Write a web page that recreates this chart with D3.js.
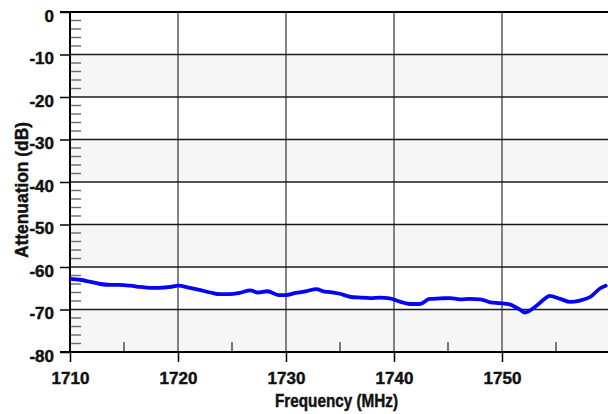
<!DOCTYPE html>
<html>
<head>
<meta charset="utf-8">
<script src="https://cdn.jsdelivr.net/npm/d3@7"></script>
<style>
  html, body { margin: 0; padding: 0; background: #fff; }
  svg { display: block; }
  text.lbl { font-family: "Liberation Sans", Arial, sans-serif; font-weight: 700; fill: #111; stroke: #111; stroke-width: 0.45px; }
</style>
</head>
<body>
<svg id="chart" width="608" height="414"></svg>
<script>
// Measured attenuation across the band
const freqMHz = [1710.0, 1710.9, 1711.9, 1712.8, 1713.7, 1714.6, 1715.6, 1716.5, 1717.4, 1718.3,
  1719.3, 1720.0, 1721.1, 1722.0, 1723.0, 1723.9, 1724.8, 1725.7, 1726.7, 1727.4,
  1728.3, 1729.3, 1730.0, 1730.9, 1731.9, 1732.8, 1733.6, 1734.1, 1735.0, 1735.9,
  1736.9, 1737.8, 1738.7, 1739.6, 1740.6, 1741.5, 1742.4, 1743.3, 1744.3, 1745.2,
  1746.1, 1747.0, 1748.0, 1748.9, 1749.8, 1750.7, 1751.7, 1752.1, 1753.1, 1754.0,
  1754.4, 1755.4, 1756.3, 1757.2, 1758.2, 1759.1, 1759.6];
const attenuationDb = [-62.8, -63.0, -63.5, -64.0, -64.2, -64.2, -64.4, -64.7, -64.9, -64.9,
  -64.7, -64.4, -64.9, -65.4, -66.0, -66.4, -66.4, -66.1, -65.5, -66.0,
  -65.7, -66.6, -66.6, -66.1, -65.7, -65.2, -65.8, -65.9, -66.3, -67.0,
  -67.2, -67.3, -67.2, -67.4, -68.2, -68.7, -68.7, -67.5, -67.4, -67.3,
  -67.6, -67.5, -67.6, -68.3, -68.5, -68.8, -70.1, -70.7, -69.3, -67.4,
  -66.8, -67.5, -68.2, -67.9, -67.0, -65.0, -64.4];

const xTicks = [1710, 1720, 1730, 1740, 1750];
const xMinorTicks = [1715, 1725, 1735, 1745, 1755];
const yTicks = [0, -10, -20, -30, -40, -50, -60, -70, -80];
const yMinorTicks = d3.range(-78, 0, 2).filter(v => v % 10 !== 0);
const shadedBands = [[-10, -20], [-30, -40], [-50, -60], [-70, -80]];

const svg = d3.select("#chart");
const plotLeft = 70, plotRight = 610, plotTop = 12, plotBottom = 352;

const x = d3.scaleLinear().domain([1710, 1760]).range([plotLeft, plotRight]);
const y = d3.scaleLinear().domain([-80, 0]).range([plotBottom, plotTop]);

svg.append("defs").append("clipPath").attr("id", "plotClip")
  .append("rect").attr("x", plotLeft).attr("y", plotTop - 2)
  .attr("width", plotRight - plotLeft).attr("height", plotBottom - plotTop + 4);

// alternating background bands
svg.append("g").selectAll("rect").data(shadedBands).join("rect")
  .attr("x", plotLeft).attr("width", plotRight - plotLeft)
  .attr("y", d => y(d[0])).attr("height", d => y(d[1]) - y(d[0]))
  .attr("fill", "#f6f6f6");

// vertical grid
svg.append("g").selectAll("line").data(xTicks.slice(1)).join("line")
  .attr("x1", d => x(d)).attr("x2", d => x(d)).attr("y1", plotTop).attr("y2", plotBottom)
  .attr("stroke", "#505050").attr("stroke-width", 1.4);

// horizontal grid
svg.append("g").selectAll("line").data(yTicks.slice(1, -1)).join("line")
  .attr("x1", plotLeft).attr("x2", plotRight).attr("y1", d => y(d)).attr("y2", d => y(d))
  .attr("stroke", "#1a1a1a").attr("stroke-width", 1.3);

// minor y ticks inside the plot
svg.append("g").selectAll("line").data(yMinorTicks).join("line")
  .attr("x1", plotLeft + 1).attr("x2", plotLeft + 11).attr("y1", d => y(d)).attr("y2", d => y(d))
  .attr("stroke", "#6a6a6a").attr("stroke-width", 1.4);

// minor x ticks rising from the bottom axis
svg.append("g").selectAll("line").data(xMinorTicks).join("line")
  .attr("x1", d => x(d)).attr("x2", d => x(d)).attr("y1", plotBottom - 10).attr("y2", plotBottom)
  .attr("stroke", "#333").attr("stroke-width", 1.3);

// top edge of the frame
svg.append("line").attr("x1", plotLeft - 10).attr("x2", plotRight).attr("y1", plotTop).attr("y2", plotTop)
  .attr("stroke", "#000").attr("stroke-width", 2);

const yAxis = svg.append("g").attr("transform", `translate(${plotLeft},0)`)
  .call(d3.axisLeft(y).tickValues(yTicks).tickSize(10).tickPadding(6));
yAxis.select(".domain").attr("stroke", "#000").attr("stroke-width", 2).attr("d", `M0,${plotTop}V${plotBottom}`);
yAxis.selectAll(".tick line").attr("stroke", "#000").attr("stroke-width", 1.5);
yAxis.selectAll(".tick text").attr("class", "lbl").attr("font-size", 17).attr("dy", "0.53em")
  .text(d => String(d));

const xAxis = svg.append("g").attr("transform", `translate(0,${plotBottom})`)
  .call(d3.axisBottom(x).tickValues(xTicks).tickSize(10).tickPadding(10).tickFormat(d3.format("d")));
xAxis.select(".domain").attr("stroke", "#000").attr("stroke-width", 2).attr("d", `M${plotLeft - 10},0H${plotRight}`);
xAxis.selectAll(".tick line").attr("stroke", "#000").attr("stroke-width", 1.5);
xAxis.selectAll(".tick text").attr("class", "lbl").attr("font-size", 17);

// response curve
const line = d3.line().x((d, i) => x(freqMHz[i])).y(d => y(d)).curve(d3.curveMonotoneX);
svg.append("path").datum(attenuationDb)
  .attr("clip-path", "url(#plotClip)")
  .attr("d", line)
  .attr("fill", "none").attr("stroke", "#0505f5").attr("stroke-width", 3.8)
  .attr("stroke-linejoin", "round").attr("stroke-linecap", "round");

// axis titles
svg.append("text").attr("class", "lbl").attr("font-size", 18.5)
  .attr("x", 336.5).attr("y", 406.5).attr("text-anchor", "middle")
  .attr("textLength", 123).attr("lengthAdjust", "spacingAndGlyphs")
  .text("Frequency (MHz)");
svg.append("text").attr("class", "lbl").attr("font-size", 18.5)
  .attr("transform", "translate(28,190) rotate(-90)").attr("text-anchor", "middle")
  .attr("textLength", 136).attr("lengthAdjust", "spacingAndGlyphs")
  .text("Attenuation (dB)");
</script>
</body>
</html>
